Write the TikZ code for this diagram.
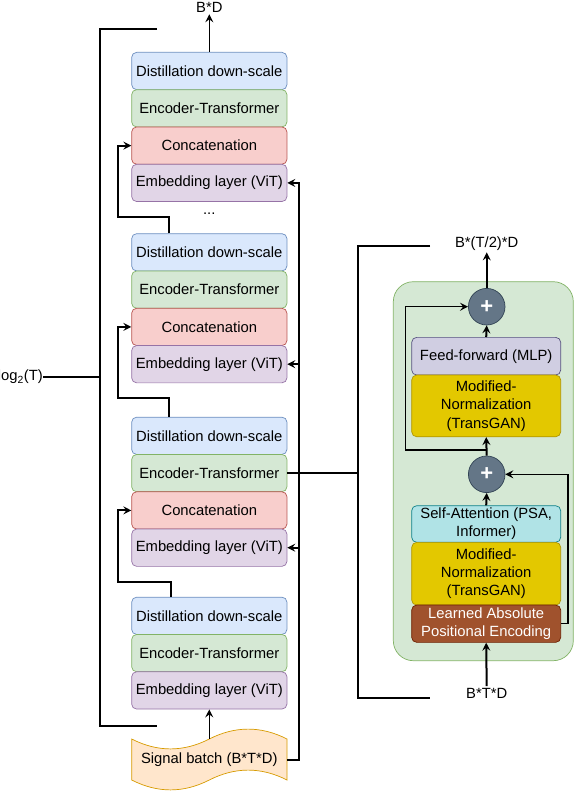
\documentclass[tikz,border=0pt]{standalone}
\usepackage{fontspec}
\setmainfont{Liberation Sans}
\usetikzlibrary{arrows.meta,calc}
\definecolor{distfill}{HTML}{DAE8FC}\definecolor{distdraw}{HTML}{6C8EBF}
\definecolor{encfill}{HTML}{D5E8D4}\definecolor{encdraw}{HTML}{82B366}
\definecolor{catfill}{HTML}{F8CECC}\definecolor{catdraw}{HTML}{B85450}
\definecolor{embfill}{HTML}{E1D5E7}\definecolor{embdraw}{HTML}{9673A6}
\definecolor{sigfill}{HTML}{FFE6CC}\definecolor{sigdraw}{HTML}{D79B00}
\definecolor{fffill}{HTML}{D0CEE2}\definecolor{ffdraw}{HTML}{56517E}
\definecolor{mnfill}{HTML}{E3C800}\definecolor{mndraw}{HTML}{B09500}
\definecolor{safill}{HTML}{B0E3E6}\definecolor{sadraw}{HTML}{0E8088}
\definecolor{lafill}{HTML}{A0522D}\definecolor{ladraw}{HTML}{6D1F00}
\definecolor{plusfill}{HTML}{647687}\definecolor{plusdraw}{HTML}{314354}
\newcommand\dgfs{\fontsize{14.8}{18.3}\selectfont}
\begin{document}
\begin{tikzpicture}[x=1pt,y=-1pt,
  box/.style={draw, rounded corners=5pt, minimum width=155.3pt, minimum height=37.3pt, inner sep=0pt, font=\dgfs, align=center, line width=0.7pt},
  distb/.style={box, fill=distfill, draw=distdraw},
  encb/.style={box, fill=encfill, draw=encdraw},
  catb/.style={box, fill=catfill, draw=catdraw},
  embb/.style={box, fill=embfill, draw=embdraw},
  rbox/.style={draw, rounded corners=5pt, minimum width=149pt, inner sep=0pt, font=\dgfs, align=center, line width=0.7pt},
  plus/.style={circle, minimum size=36.6pt, inner sep=0pt, fill=plusfill, draw=plusdraw, line width=0.7pt, text=white, font=\bfseries\fontsize{22}{22}\selectfont},
  lbl/.style={font=\dgfs, inner sep=2pt},
  ar/.style={-{Stealth[length=8pt,width=8pt,inset=3pt]}},
  thk/.style={line width=2pt},
  thn/.style={line width=1.2pt},
]
\useasboundingbox (0,0) rectangle (574,792);

% right panel container
\node[draw=encdraw, fill=encfill, rounded corners=20pt, minimum width=180pt, minimum height=379pt, line width=0.7pt] (panel) at (483.3,471.2) {};

% left stack
\node[distb] (D1) at (209.3,71) {Distillation down-scale};
\node[encb]  (E1) at (209.3,108.3) {Encoder-Transformer};
\node[catb]  (C1) at (209.3,145.6) {Concatenation};
\node[embb]  (M1) at (209.3,182.9) {Embedding layer (ViT)};
\node[lbl]   (dots) at (209.3,214) {...};

\node[distb] (D2) at (209.3,252.3) {Distillation down-scale};
\node[encb]  (E2) at (209.3,289.6) {Encoder-Transformer};
\node[catb]  (C2) at (209.3,326.9) {Concatenation};
\node[embb]  (M2) at (209.3,364.2) {Embedding layer (ViT)};

\node[distb] (D3) at (209.3,435.8) {Distillation down-scale};
\node[encb]  (E3) at (209.3,473.1) {Encoder-Transformer};
\node[catb]  (C3) at (209.3,510.4) {Concatenation};
\node[embb]  (M3) at (209.3,547.7) {Embedding layer (ViT)};

\node[distb] (D4) at (209.3,615.8) {Distillation down-scale};
\node[encb]  (E4) at (209.3,653.1) {Encoder-Transformer};
\node[embb]  (M4) at (209.3,690.4) {Embedding layer (ViT)};

% signal batch (tape)
\draw[fill=sigfill, draw=sigdraw, line width=0.7pt]
  (131.7,739) .. controls (157.6,752.2) and (183.4,752.2) .. (209.3,739)
  .. controls (235.2,725.8) and (261.1,725.8) .. (287,739) -- (287,780)
  .. controls (261.1,766.8) and (235.2,766.8) .. (209.3,780)
  .. controls (183.4,793.2) and (157.6,793.2) .. (131.7,780) -- cycle;
\node[font=\dgfs, minimum width=155.3pt, minimum height=41pt, inner sep=0pt] (sig) at (209.3,759.5) {Signal batch (B*T*D)};

% labels
\node[lbl] (BD) at (209.3,7) {B*D};
\node[lbl, anchor=east, inner sep=0pt] (log) at (43,377) {log\textsubscript{2}(T)};

% arrows left stack
\draw[thn, ar] (D1.north) -- (BD.south);
\draw[thn, ar] (sig.north) -- (M4.south);

\draw[thk, ar] ($(D2.north)+(-40,0)$) -- ++(0,-16) -| ($(C1.west)+(-13,0)$) -- (C1.west);
\draw[thk, ar] ($(D3.north)+(-40,0)$) -- ++(0,-18.5) -| ($(C2.west)+(-13,0)$) -- (C2.west);
\draw[thk, ar] ($(D4.north)+(-38.5,0)$) -- ++(0,-15) -| ($(C3.west)+(-13,0)$) -- (C3.west);

\draw[thk, ar] (sig.east) -| ($(M1.east)+(12,0)$) -- (M1.east);
\draw[thk, ar] ($(M2.east)+(12,0)$) -- (M2.east);
\draw[thk, ar] ($(M3.east)+(12,0)$) -- (M3.east);

% left bracket
\coordinate (lb1) at (157,29);
\coordinate (lb2) at (100,29);
\coordinate (lb3) at (100,726);
\coordinate (lb4) at (157,726);
\draw[thk] (lb1) -- (lb2) -- (lb3) -- (lb4);
\draw[thn] (log.east) -- (log.east -| lb2);

% right bracket
\coordinate (rb1) at (430,245.7);
\coordinate (rb2) at (358,245.7);
\coordinate (rb3) at (358,698);
\coordinate (rb4) at (430,698);
\draw[thk] (rb1) -- (rb2) -- (rb3) -- (rb4);
\draw[thk] (E3.east) -- (E3.east -| rb2);

% right panel content
\node[plus] (P1) at (486.7,306.7) {+};
\node[rbox, fill=fffill, draw=ffdraw, minimum height=37.7pt] (FF) at (486.2,356.2) {Feed-forward (MLP)};
\node[rbox, fill=mnfill, draw=mndraw, minimum height=61.7pt] (MN1) at (486.2,405.9) {Modified-\\Normalization\\(TransGAN)};
\node[plus] (P2) at (486.7,474.3) {+};
\node[rbox, fill=safill, draw=sadraw, minimum height=36.6pt] (SA) at (486.2,524) {Self-Attention (PSA,\\Informer)};
\node[rbox, fill=mnfill, draw=mndraw, minimum height=62.7pt] (MN2) at (486.2,573.7) {Modified-\\Normalization\\(TransGAN)};
\node[rbox, fill=lafill, draw=ladraw, minimum height=37.3pt, text=white] (LA) at (486.2,623.7) {Learned Absolute\\Positional Encoding};

\node[lbl] (TOP) at (486.7,243.3) {B*(T/2)*D};
\node[lbl] (BTD) at (486.7,693.3) {B*T*D};

\draw[thk, ar] (P1.north) -- (TOP.south);
\draw[thk, ar] (FF.north) -- (P1.south);
\draw[thk, ar] (P2.north) -- (MN1.south);
\draw[thk, ar] (SA.north) -- (P2.south);
\draw[thk, ar] (BTD.north) -- (LA.south);

\coordinate (s1) at (486.7,450);
\draw[thn, ar] (s1) -| ($(P1.west)+(-62.7,0)$) -- (P1.west);
\draw[thn, ar] (LA.east) -| ($(P2.east)+(62.7,0)$) -- (P2.east);
\end{tikzpicture}
\end{document}
